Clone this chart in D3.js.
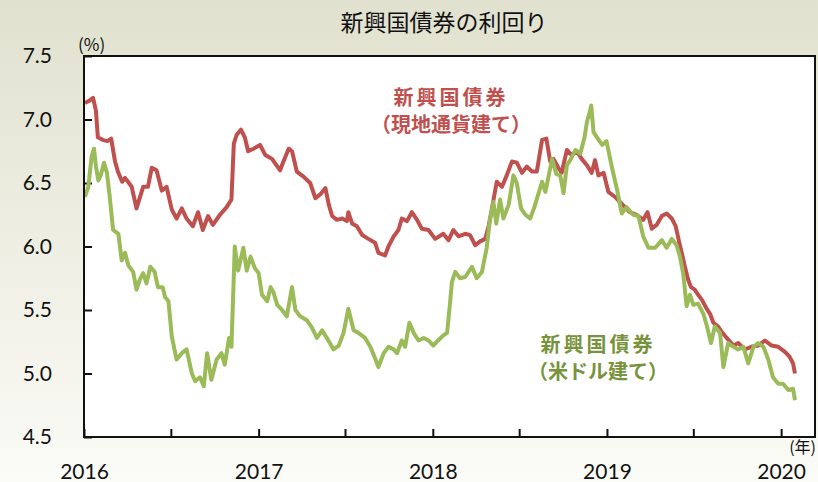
<!DOCTYPE html>
<html>
<head>
<meta charset="utf-8">
<script src="https://cdn.jsdelivr.net/npm/d3@7"></script>
<style>
  body { margin: 0; background: #fff; }
  svg { display: block; }
</style>
</head>
<body>
<div id="chart"></div>
<script>
// 新興国債券（現地通貨建て）
const localDates = [
  "2016-01-03","2016-01-13","2016-01-20","2016-01-26","2016-01-30","2016-02-09","2016-02-19","2016-02-27",
  "2016-03-06","2016-03-12","2016-03-21","2016-03-27","2016-04-10","2016-04-20","2016-05-04","2016-05-14",
  "2016-05-22","2016-06-01","2016-06-12","2016-06-22","2016-07-03","2016-07-13","2016-07-24","2016-08-03",
  "2016-08-16","2016-08-27","2016-09-06","2016-09-17","2016-09-27","2016-10-12","2016-10-26","2016-11-05",
  "2016-11-10","2016-11-16","2016-11-25","2016-12-03","2016-12-10","2016-12-21","2017-01-04","2017-01-15",
  "2017-01-29","2017-02-15","2017-02-22","2017-03-05","2017-03-12","2017-03-22","2017-04-05","2017-04-19",
  "2017-04-30","2017-05-10","2017-05-21","2017-05-28","2017-06-04","2017-06-14","2017-06-25","2017-07-05",
  "2017-07-08","2017-07-16","2017-07-26","2017-08-06","2017-08-19","2017-09-02","2017-09-09","2017-09-23",
  "2017-09-30","2017-10-11","2017-10-21","2017-10-28","2017-11-08","2017-11-18","2017-11-29","2017-12-09",
  "2017-12-23","2018-01-06","2018-01-23","2018-02-03","2018-02-13","2018-02-24","2018-03-10","2018-03-20",
  "2018-03-31","2018-04-10","2018-04-21","2018-04-28","2018-05-05","2018-05-15","2018-05-26","2018-06-05",
  "2018-06-16","2018-06-26","2018-07-07","2018-07-17","2018-07-28","2018-08-07","2018-08-18","2018-08-27",
  "2018-09-04","2018-09-11","2018-09-21","2018-09-28","2018-10-09","2018-10-19","2018-10-30","2018-11-09",
  "2018-11-20","2018-11-30","2018-12-07","2018-12-14","2018-12-25","2019-01-04","2019-01-18","2019-01-28",
  "2019-02-08","2019-02-18","2019-03-04","2019-03-18","2019-03-27","2019-04-05","2019-04-15","2019-04-26",
  "2019-05-06","2019-05-17","2019-05-25","2019-06-01","2019-06-08","2019-06-14","2019-06-20","2019-06-26",
  "2019-07-04","2019-07-11","2019-07-19","2019-07-29","2019-08-05","2019-08-12","2019-08-22","2019-08-29",
  "2019-09-09","2019-09-23","2019-10-03","2019-10-17","2019-10-31","2019-11-14","2019-11-28","2019-12-12",
  "2019-12-26","2020-01-09","2020-01-19","2020-01-26","2020-01-30"
];
const localYield = [
  7.13,7.15,7.17,7.07,6.86,6.84,6.83,6.85,
  6.67,6.59,6.51,6.54,6.47,6.30,6.47,6.47,
  6.62,6.60,6.44,6.47,6.29,6.22,6.30,6.22,
  6.16,6.27,6.13,6.24,6.17,6.25,6.31,6.37,
  6.81,6.88,6.92,6.86,6.75,6.77,6.80,6.72,
  6.69,6.60,6.67,6.77,6.75,6.59,6.55,6.50,
  6.38,6.41,6.46,6.33,6.24,6.21,6.22,6.20,
  6.27,6.18,6.16,6.09,6.06,6.03,5.95,5.93,
  6.00,6.08,6.13,6.22,6.20,6.27,6.21,6.14,
  6.13,6.06,6.10,6.05,6.13,6.08,6.10,6.09,
  6.01,6.04,6.06,6.16,6.30,6.51,6.47,6.56,
  6.67,6.66,6.58,6.63,6.59,6.59,6.84,6.85,
  6.67,6.69,6.62,6.58,6.76,6.72,6.75,6.69,
  6.64,6.58,6.68,6.56,6.58,6.43,6.39,6.35,
  6.31,6.27,6.25,6.21,6.27,6.14,6.17,6.24,
  6.26,6.22,6.16,6.04,5.93,5.83,5.74,5.68,
  5.66,5.62,5.58,5.51,5.47,5.40,5.37,5.33,
  5.28,5.22,5.24,5.19,5.21,5.22,5.26,5.22,
  5.21,5.17,5.13,5.08,5.00
];

// 新興国債券（米ドル建て）
const usdDates = [
  "2016-01-03","2016-01-10","2016-01-17","2016-01-22","2016-01-26","2016-01-31","2016-02-05","2016-02-12",
  "2016-02-18","2016-02-24","2016-03-02","2016-03-13","2016-03-20","2016-03-27","2016-04-03","2016-04-13",
  "2016-04-20","2016-04-27","2016-05-04","2016-05-11","2016-05-19","2016-05-28","2016-06-04","2016-06-14",
  "2016-06-19","2016-06-26","2016-07-03","2016-07-13","2016-07-24","2016-08-03","2016-08-14","2016-08-21",
  "2016-08-31","2016-09-08","2016-09-15","2016-09-24","2016-10-05","2016-10-15","2016-10-22","2016-10-31",
  "2016-11-05","2016-11-12","2016-11-19","2016-11-30","2016-12-07","2016-12-15","2016-12-24","2017-01-01",
  "2017-01-08","2017-01-19","2017-01-26","2017-02-01","2017-02-09","2017-02-19","2017-03-01","2017-03-12",
  "2017-03-19","2017-03-29","2017-04-12","2017-04-23","2017-05-03","2017-05-14","2017-05-24","2017-06-07",
  "2017-06-18","2017-06-28","2017-07-08","2017-07-19","2017-07-29","2017-08-12","2017-08-23","2017-09-02",
  "2017-09-09","2017-09-20","2017-09-30","2017-10-11","2017-10-18","2017-10-28","2017-11-04","2017-11-13",
  "2017-11-22","2017-12-02","2017-12-13","2017-12-23","2018-01-02","2018-01-12","2018-01-23","2018-01-31",
  "2018-02-06","2018-02-10","2018-02-17","2018-02-27","2018-03-10","2018-03-24","2018-04-03","2018-04-14",
  "2018-04-24","2018-05-01","2018-05-08","2018-05-14","2018-05-22","2018-05-29","2018-06-09","2018-06-19",
  "2018-06-26","2018-07-05","2018-07-14","2018-07-24","2018-08-01","2018-08-10","2018-08-18","2018-08-25",
  "2018-09-01","2018-09-08","2018-09-17","2018-09-25","2018-10-02","2018-10-09","2018-10-16","2018-10-27",
  "2018-11-06","2018-11-15","2018-11-20","2018-11-26","2018-11-29","2018-12-04","2018-12-11","2018-12-22",
  "2018-12-31","2019-01-11","2019-01-22","2019-02-01","2019-02-11","2019-02-25","2019-03-08","2019-03-18",
  "2019-03-29","2019-04-12","2019-04-26","2019-05-06","2019-05-17","2019-05-27","2019-06-03","2019-06-10",
  "2019-06-17","2019-06-24","2019-07-01","2019-07-11","2019-07-22","2019-07-29","2019-08-07","2019-08-15",
  "2019-08-26","2019-09-02","2019-09-12","2019-09-23","2019-10-03","2019-10-14","2019-10-24","2019-11-04",
  "2019-11-14","2019-11-25","2019-12-05","2019-12-15","2019-12-26","2020-01-05","2020-01-16","2020-01-26",
  "2020-01-30"
];
const usdYield = [
  6.39,6.47,6.71,6.77,6.63,6.52,6.56,6.66,
  6.58,6.39,6.13,6.10,5.89,5.95,5.85,5.80,
  5.66,5.74,5.79,5.71,5.84,5.80,5.68,5.68,
  5.60,5.57,5.29,5.11,5.16,5.19,5.00,4.94,
  4.97,4.90,5.16,4.95,5.11,5.16,5.07,5.28,
  5.21,6.00,5.81,5.99,5.81,5.92,5.83,5.79,
  5.62,5.57,5.68,5.64,5.54,5.50,5.45,5.68,
  5.50,5.45,5.42,5.36,5.28,5.34,5.28,5.19,
  5.22,5.32,5.51,5.34,5.32,5.28,5.21,5.12,
  5.05,5.16,5.21,5.19,5.16,5.26,5.21,5.40,
  5.32,5.26,5.28,5.26,5.22,5.26,5.30,5.32,
  5.55,5.72,5.80,5.75,5.76,5.84,5.75,5.80,
  5.99,6.22,6.35,6.18,6.37,6.22,6.33,6.56,
  6.50,6.30,6.25,6.22,6.30,6.41,6.51,6.43,
  6.56,6.69,6.57,6.56,6.42,6.64,6.68,6.76,
  6.73,6.86,6.98,7.06,7.11,6.90,6.86,6.80,
  6.83,6.63,6.45,6.26,6.31,6.25,6.24,6.08,
  5.99,5.99,6.05,5.99,6.06,6.01,5.92,5.78,
  5.53,5.62,5.54,5.55,5.47,5.38,5.24,5.37,
  5.32,5.05,5.24,5.21,5.19,5.21,5.08,5.21,
  5.24,5.21,5.11,4.97,4.92,4.92,4.87,4.88,
  4.79
];

const yTicks = [4.5, 5.0, 5.5, 6.0, 6.5, 7.0, 7.5];
const chartTitle = "新興国債券の利回り";
const localLabel = ["新興国債券", "（現地通貨建て）"];
const usdLabel = ["新興国債券", "（米ドル建て）"];

const parseDate = d3.timeParse("%Y-%m-%d");
const localData = localDates.map((d, i) => ({ date: parseDate(d), value: localYield[i] }));
const usdData = usdDates.map((d, i) => ({ date: parseDate(d), value: usdYield[i] }));

const W = 818, H = 482;
const margin = { top: 56, right: 3, bottom: 45, left: 84 };
const width = W - margin.left - margin.right;
const height = H - margin.top - margin.bottom;

const jpFont = "'Noto Sans CJK JP', sans-serif";
const numFont = "Lato, 'Open Sans', sans-serif";

const svg = d3.select("#chart")
  .append("svg")
  .attr("width", W)
  .attr("height", H);

// background gradient
const grad = svg.append("defs").append("linearGradient")
  .attr("id", "bg")
  .attr("x1", 0).attr("y1", 0).attr("x2", 0).attr("y2", 1);
grad.append("stop").attr("offset", "0%").attr("stop-color", "#e1e1cf");
grad.append("stop").attr("offset", "100%").attr("stop-color", "#fbfbf7");

svg.append("rect")
  .attr("width", W)
  .attr("height", H)
  .attr("fill", "url(#bg)");

const g = svg.append("g")
  .attr("transform", `translate(${margin.left},${margin.top})`);

g.append("rect")
  .attr("width", width)
  .attr("height", height)
  .attr("fill", "#fff");

const x = d3.scaleTime()
  .domain([parseDate("2016-01-01"), parseDate("2020-03-12")])
  .range([0, width]);

const y = d3.scaleLinear()
  .domain([4.5, 7.5])
  .range([height, 0]);

// Y axis (ticks inside)
const yAxis = g.append("g")
  .call(d3.axisLeft(y)
    .tickValues(yTicks)
    .tickSize(-8)
    .tickFormat(d3.format(".1f")));
yAxis.select(".domain").remove();
yAxis.selectAll(".tick line").attr("stroke", "#111").attr("stroke-width", 2);
yAxis.selectAll("text")
  .attr("x", -32)
  .style("font-family", numFont)
  .style("font-size", "21px")
  .attr("fill", "#111");

// X axis (half-year ticks inside, labels at years)
const xAxis = g.append("g")
  .attr("transform", `translate(0,${height})`)
  .call(d3.axisBottom(x)
    .ticks(d3.timeMonth.every(6))
    .tickSize(-8)
    .tickFormat(d => d.getMonth() === 0 ? d3.timeFormat("%Y")(d) : ""));
xAxis.select(".domain").remove();
xAxis.selectAll(".tick line").attr("stroke", "#111").attr("stroke-width", 2);
xAxis.selectAll("text")
  .attr("y", 42)
  .attr("dy", 0)
  .style("font-family", numFont)
  .style("font-size", "21px")
  .attr("fill", "#111");

// lines
const line = d3.line()
  .x(d => x(d.date))
  .y(d => y(d.value));

g.append("path")
  .datum(localData)
  .attr("fill", "none")
  .attr("stroke", "#c0504d")
  .attr("stroke-width", 4)
  .attr("stroke-linejoin", "round")
  .attr("d", line);

g.append("path")
  .datum(usdData)
  .attr("fill", "none")
  .attr("stroke", "#9bbb59")
  .attr("stroke-width", 4)
  .attr("stroke-linejoin", "round")
  .attr("d", line);

// plot border
g.append("rect")
  .attr("width", width)
  .attr("height", height)
  .attr("fill", "none")
  .attr("stroke", "#111")
  .attr("stroke-width", 2);

// title and units
svg.append("text")
  .attr("x", 444)
  .attr("y", 31)
  .attr("text-anchor", "middle")
  .style("font-family", jpFont)
  .style("font-size", "23px")
  .attr("fill", "#111")
  .text(chartTitle);

svg.append("text")
  .attr("x", 78)
  .attr("y", 51)
  .style("font-family", jpFont)
  .style("font-size", "17px")
  .attr("fill", "#111")
  .text("(%)");

svg.append("text")
  .attr("x", 816)
  .attr("y", 453)
  .attr("text-anchor", "end")
  .style("font-family", jpFont)
  .style("font-size", "16px")
  .attr("fill", "#111")
  .text("(年)");

// series labels
function seriesLabel(lines, cx, y0, color) {
  const t = svg.append("text")
    .attr("text-anchor", "middle")
    .style("font-family", jpFont)
    .style("font-size", "20px")
    .style("font-weight", "bold")
    .attr("fill", color);
  lines.forEach((s, i) => {
    t.append("tspan")
      .attr("x", cx)
      .attr("y", y0 + i * 27)
      .style("letter-spacing", i === 0 ? "3px" : "0px")
      .text(s);
  });
}
seriesLabel(localLabel, 451, 105, "#c0504d");
seriesLabel(usdLabel, 598, 352, "#77933c");
</script>
</body>
</html>
